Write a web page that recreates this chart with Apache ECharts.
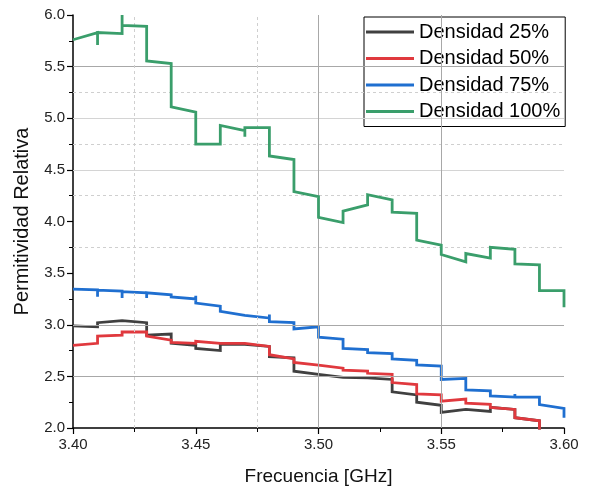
<!DOCTYPE html>
<html>
<head>
<meta charset="utf-8">
<script src="https://cdn.jsdelivr.net/npm/echarts@6/dist/echarts.min.js"></script>
<style>html,body{margin:0;padding:0;background:#fff}#c{width:605px;height:493px}</style>
</head>
<body>
<div id="c"></div>
<script>
// Frequency boundaries (GHz)
const freqs = [3.40,3.41,3.42,3.43,3.44,3.45,3.46,3.47,3.48,3.49,3.50,3.51,3.52,3.53,3.54,3.55,3.56,3.57,3.58,3.59,3.60];
const seriesNames = ['Densidad 25%','Densidad 50%','Densidad 75%','Densidad 100%'];

// Start / end value of each 0.01 GHz segment
const d25Start = [2.99,3.02,3.04,2.90,2.82,2.77,2.81,2.80,2.69,2.55,2.51,2.49,2.48,2.35,2.25,2.15,2.17,2.20,2.10,1.97];
const d25End   = [2.98,3.04,3.02,2.91,2.80,2.75,2.81,2.79,2.68,2.52,2.49,2.485,2.47,2.32,2.22,2.18,2.16,2.18,2.07,1.90];
const d25Spikes = {};

const d50Start = [2.80,2.89,2.93,2.89,2.83,2.84,2.82,2.81,2.71,2.635,2.60,2.56,2.53,2.44,2.33,2.26,2.24,2.20,2.10,1.97];
const d50End   = [2.82,2.90,2.93,2.85,2.82,2.82,2.82,2.79,2.67,2.61,2.58,2.55,2.52,2.42,2.32,2.28,2.23,2.18,2.07,1.90];
const d50Spikes = {};

const d75Start = [3.345,3.335,3.32,3.31,3.27,3.21,3.13,3.09,3.03,2.96,2.88,2.77,2.73,2.67,2.61,2.47,2.37,2.31,2.30,2.226];
const d75End   = [3.339,3.325,3.31,3.29,3.25,3.18,3.09,3.065,3.02,2.98,2.86,2.76,2.72,2.655,2.60,2.48,2.36,2.30,2.30,2.19];
const d75Spikes = {1:3.27, 2:3.26, 3:3.26, 5:3.28, 8:3.10, 18:2.33, 20:2.10};

const d100Start = [5.76,5.83,5.90,5.555,5.11,4.75,4.93,4.91,4.635,4.29,4.04,4.10,4.26,4.09,3.82,3.68,3.69,3.75,3.59,3.33];
const d100End   = [5.83,5.82,5.89,5.53,5.06,4.75,4.88,4.91,4.60,4.24,3.99,4.16,4.21,4.08,3.77,3.61,3.645,3.73,3.58,3.33];
const d100Spikes = {1:5.71, 2:6.0, 7:4.82, 20:3.17};

const colors = ['#404040','#e0393e','#1f6fd0','#3a9e6b'];

// line goes end -> spike -> start at each boundary
function buildWithSpike(starts, ends, spikes) {
  const pts = [];
  for (let i = 0; i < starts.length; i++) {
    if (i > 0 && spikes[i] !== undefined) pts.push([freqs[i], spikes[i]]);
    pts.push([freqs[i], starts[i]]);
    pts.push([freqs[i + 1], ends[i]]);
  }
  const last = starts.length;
  if (spikes[last] !== undefined) pts.push([freqs[last], spikes[last]]);
  return pts;
}

const dataSets = [
  buildWithSpike(d25Start, d25End, d25Spikes),
  buildWithSpike(d50Start, d50End, d50Spikes),
  buildWithSpike(d75Start, d75End, d75Spikes),
  buildWithSpike(d100Start, d100End, d100Spikes)
];

const font = 'Arial, "Liberation Sans", sans-serif';
const solidDark = {type:'solid', color:'#a8a8a8', width:1};
const solidLight = {type:'solid', color:'#d4d4d4', width:1};
const dashed = {type:[3,3], color:'#cfcfcf', width:1};

const gridLines = [
  {yAxis:5.5, lineStyle:solidDark},
  {yAxis:5.0, lineStyle:solidLight},
  {yAxis:4.5, lineStyle:solidLight},
  {yAxis:3.0, lineStyle:solidDark},
  {yAxis:2.5, lineStyle:solidDark},
  {yAxis:5.25, lineStyle:dashed},
  {yAxis:4.75, lineStyle:dashed},
  {yAxis:4.25, lineStyle:dashed},
  {yAxis:3.75, lineStyle:dashed},
  {xAxis:3.50, lineStyle:solidDark},
  {xAxis:3.55, lineStyle:solidDark},
  {xAxis:3.425, lineStyle:dashed},
  {xAxis:3.475, lineStyle:dashed}
];

const series = [{
  name:'grid', type:'line', data:[], z:1, silent:true,
  markLine:{silent:true, precision:4, symbol:['none','none'], label:{show:false}, animation:false, data:gridLines}
}];
seriesNames.forEach((n, i) => {
  series.push({
    name:n, type:'line', data:dataSets[i], showSymbol:false, symbol:'none', z:2+i,
    clip:true, animation:false,
    lineStyle:{color:colors[i], width:2.8, join:'miter'},
    itemStyle:{color:colors[i]}
  });
});

const chart = echarts.init(document.getElementById('c'));
chart.setOption({
  animation:false,
  grid:{left:73, right:41, top:15, bottom:65},
  legend:{
    data:seriesNames, orient:'vertical', left:364, top:17,
    padding:[5,5,5,2], itemGap:6.5, itemWidth:48, itemHeight:3, icon:'rect',
    borderColor:'#000', borderWidth:1, backgroundColor:'transparent',
    textStyle:{fontFamily:font, fontSize:20, color:'#000', lineHeight:20}
  },
  xAxis:{
    type:'value', min:3.40, max:3.60, interval:0.05,
    name:'Frecuencia [GHz]', nameLocation:'middle', nameGap:39,
    nameTextStyle:{fontFamily:font, fontSize:19, color:'#111'},
    axisLine:{show:true, lineStyle:{color:'#000', width:1.5}},
    axisTick:{show:true, length:6, lineStyle:{color:'#000', width:1.2}},
    minorTick:{show:true, splitNumber:2, length:4, lineStyle:{color:'#000', width:1}},
    axisLabel:{fontFamily:font, fontSize:15, color:'#222', margin:9, formatter:v=>v.toFixed(2)},
    splitLine:{show:false}
  },
  yAxis:{
    type:'value', min:2, max:6, interval:0.5,
    name:'Permitividad Relativa', nameLocation:'middle', nameGap:41,
    nameTextStyle:{fontFamily:font, fontSize:20, color:'#111'},
    axisLine:{show:true, lineStyle:{color:'#000', width:1.5}},
    axisTick:{show:true, length:6, lineStyle:{color:'#000', width:1.2}},
    minorTick:{show:true, splitNumber:2, length:4, lineStyle:{color:'#000', width:1}},
    axisLabel:{fontFamily:font, fontSize:15, color:'#222', margin:8, formatter:v=>v.toFixed(1)},
    splitLine:{show:false}
  },
  series:series
});
</script>
</body>
</html>
